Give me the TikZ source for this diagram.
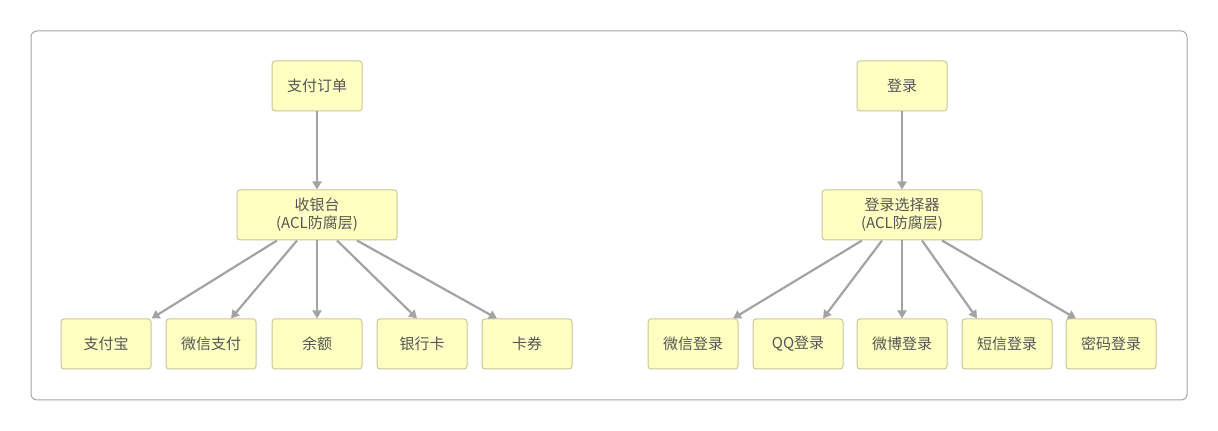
\documentclass[tikz,border=0pt]{standalone}
\usepackage{fontspec}
\setmainfont{Noto Sans CJK SC}
\usetikzlibrary{arrows.meta,calc}
\definecolor{boxfill}{HTML}{FFFFC2}
\definecolor{boxline}{HTML}{C9C79A}
\definecolor{arrowgray}{HTML}{A3A3A3}
\definecolor{textgray}{HTML}{555555}
\tikzset{
  box/.style={draw=boxline,fill=boxfill,line width=0.5pt,rounded corners=1.5pt,
    minimum width=45pt,minimum height=25pt,text=textgray,align=center,
    font=\fontsize{7.5}{9}\selectfont,inner sep=1pt},
  widebox/.style={box,minimum width=80pt},
  link/.style={draw=arrowgray,line width=1.1pt,-{Triangle[length=4pt,width=4.5pt]}}
}
\begin{document}
\begin{tikzpicture}[x=0.5pt,y=-0.5pt]
    \useasboundingbox (0,0) rectangle (1218,431);
    % Frame
    \draw[draw=black!35,line width=0.5pt,rounded corners=3pt] (31,31) rectangle (1187,400);

    % Payment side
    \node[box] (order) at (317,86) {支付订单};
    \node[widebox] (cashier) at (317,215) {收银台\\(ACL防腐层)};
    \node[box] (alipay) at (106,344) {支付宝};
    \node[box] (wxpay) at (211,344) {微信支付};
    \node[box] (balance) at (317,344) {余额};
    \node[box] (bank) at (422,344) {银行卡};
    \node[box] (coupon) at (527,344) {卡券};

    % Login side
    \node[box] (login) at (902,86) {登录};
    \node[widebox] (selector) at (902,215) {登录选择器\\(ACL防腐层)};
    \node[box] (wxlogin) at (693,344) {微信登录};
    \node[box] (qqlogin) at (798,344) {QQ登录};
    \node[box] (wblogin) at (902,344) {微博登录};
    \node[box] (smslogin) at (1007,344) {短信登录};
    \node[box] (pwdlogin) at (1111,344) {密码登录};

    % Arrows
    \draw[link] (order) -- (cashier);
    \draw[link] ($(cashier.south)+(-40,0)$) -- (alipay.north east);
    \draw[link] ($(cashier.south)+(-20,0)$) -- ($(wxpay.north)+(20,0)$);
    \draw[link] (cashier) -- (balance);
    \draw[link] ($(cashier.south)+(20,0)$) -- ($(bank.north)+(-5,0)$);
    \draw[link] ($(cashier.south)+(40,0)$) -- ($(coupon.north)+(-30,0)$);

    \draw[link] (login) -- (selector);
    \draw[link] ($(selector.south)+(-40,0)$) -- ($(wxlogin.north)+(40,0)$);
    \draw[link] ($(selector.south)+(-20,0)$) -- ($(qqlogin.north)+(25,0)$);
    \draw[link] (selector) -- (wblogin);
    \draw[link] ($(selector.south)+(20,0)$) -- ($(smslogin.north)+(-30,0)$);
    \draw[link] ($(selector.south)+(40,0)$) -- ($(pwdlogin.north)+(-35,0)$);
\end{tikzpicture}
\end{document}
